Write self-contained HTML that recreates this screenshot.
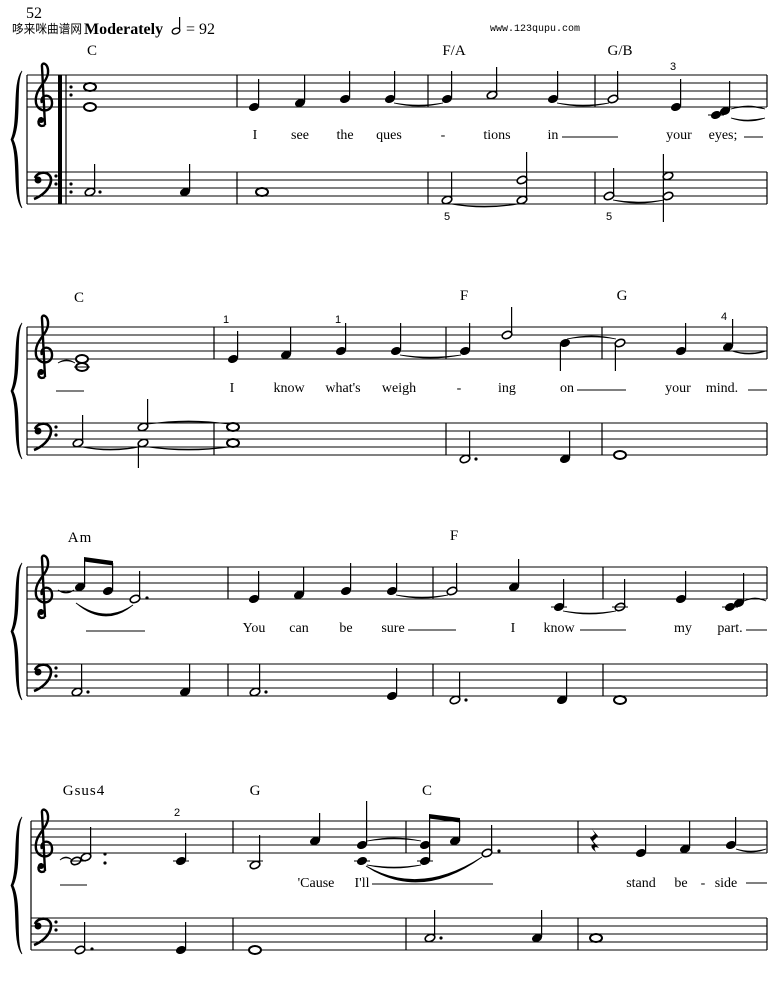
<!DOCTYPE html>
<html><head><meta charset="utf-8"><style>
body{margin:0;background:#fff;}
svg{display:block;}
.ly{font-family:"Liberation Serif",serif;font-size:14px;text-anchor:middle;}
.ch{font-family:"Liberation Serif",serif;font-size:15px;text-anchor:middle;}
.fg{font-family:"Liberation Sans",sans-serif;font-size:11px;text-anchor:middle;}
</style></head><body>
<svg id="s" width="775" height="991" viewBox="0 0 775 991" xmlns="http://www.w3.org/2000/svg">
<text x="26" y="18" font-family="Liberation Serif,serif" font-size="16">52</text>
<text x="12" y="33" font-family="Liberation Sans,'Noto Sans CJK SC',sans-serif" font-size="12" textLength="70" lengthAdjust="spacingAndGlyphs">哆来咪曲谱网</text>
<text x="84" y="34" font-family="Liberation Serif,serif" font-size="16" font-weight="bold">Moderately</text>
<ellipse cx="176" cy="31" rx="4" ry="2.8" fill="none" stroke="#000" stroke-width="1.3" transform="rotate(-20 176 31)"/>
<line x1="179.6" y1="30" x2="179.6" y2="17" stroke="#000" stroke-width="1.2"/>
<text x="186" y="34" font-family="Liberation Serif,serif" font-size="16">= 92</text>
<text x="490" y="31" font-family="Liberation Mono,monospace" font-size="10">www.123qupu.com</text>

<text class="ch" x="92" y="55">C</text><text class="ch" x="454" y="55">F/A</text><text class="ch" x="620" y="55">G/B</text>
<text class="ly" x="255" y="139">I</text><text class="ly" x="300" y="139">see</text><text class="ly" x="345" y="139">the</text><text class="ly" x="389" y="139">ques</text><text class="ly" x="443" y="139">-</text><text class="ly" x="497" y="139">tions</text><text class="ly" x="553" y="139">in</text><text class="ly" x="679" y="139">your</text><text class="ly" x="723" y="139">eyes;</text>
<text class="fg" x="447" y="220">5</text><text class="fg" x="609" y="220">5</text><text class="fg" x="673" y="70">3</text>

<text class="ch" x="79" y="302">C</text><text class="ch" x="464" y="300">F</text><text class="ch" x="622" y="300">G</text>
<text class="ly" x="232" y="392">I</text><text class="ly" x="289" y="392">know</text><text class="ly" x="343" y="392">what's</text><text class="ly" x="399" y="392">weigh</text><text class="ly" x="459" y="392">-</text><text class="ly" x="507" y="392">ing</text><text class="ly" x="567" y="392">on</text><text class="ly" x="678" y="392">your</text><text class="ly" x="722" y="392">mind.</text>
<text class="fg" x="226" y="323">1</text><text class="fg" x="338" y="323">1</text><text class="fg" x="724" y="320">4</text>

<text class="ch" x="80" y="542" letter-spacing="1">Am</text><text class="ch" x="454" y="540">F</text>
<text class="ly" x="254" y="632">You</text><text class="ly" x="299" y="632">can</text><text class="ly" x="346" y="632">be</text><text class="ly" x="393" y="632">sure</text><text class="ly" x="513" y="632">I</text><text class="ly" x="559" y="632">know</text><text class="ly" x="683" y="632">my</text><text class="ly" x="730" y="632">part.</text>

<text class="ch" x="84" y="795" letter-spacing="1">Gsus4</text><text class="ch" x="255" y="795">G</text><text class="ch" x="427" y="795">C</text>
<text class="ly" x="316" y="887">'Cause</text><text class="ly" x="362" y="887">I'll</text><text class="ly" x="641" y="887">stand</text><text class="ly" x="681" y="887">be</text><text class="ly" x="703" y="887">-</text><text class="ly" x="726" y="887">side</text>
<text class="fg" x="177" y="816">2</text>
<g id="g"></g>
</svg>
<script>
var h='';
function L(x1,y1,x2,y2,w){h+='<line x1="'+x1+'" y1="'+y1+'" x2="'+x2+'" y2="'+y2+'" stroke="#000" stroke-width="'+(w||1)+'"/>';}
var S=[[75,172,27],[327,423,27],[567,664,27],[821,918,31]];
var bars=[[237,428,595,767],[214,446,602,767],[228,433,603,767],[233,406,578,767]];
function tr(T,s){return T+32-4*s;}
function bs(B,s){return B+32-4*s;}
function head(x,y,t){
 if(t=='w'){h+='<ellipse cx="'+x+'" cy="'+y+'" rx="6" ry="4" fill="#fff" stroke="#000" stroke-width="2"/>';return;}
 if(t=='h'){h+='<ellipse cx="'+x+'" cy="'+y+'" rx="5" ry="3.4" fill="#fff" stroke="#000" stroke-width="1.6" transform="rotate(-22 '+x+' '+y+')"/>';return;}
 h+='<ellipse cx="'+x+'" cy="'+y+'" rx="5.2" ry="3.8" fill="#000" transform="rotate(-22 '+x+' '+y+')"/>';
}
function n(x,y,t,st,len){head(x,y,t);len=len||28;if(st=='u')L(x+4.6,y-1,x+4.6,y-len,1.2);if(st=='d')L(x-4.6,y+1,x-4.6,y+len,1.2);}
function dot(x,y){h+='<circle cx="'+x+'" cy="'+y+'" r="1.6" fill="#000"/>';}
function led(x,y){L(x-8,y,x+8,y,1);}
function tie(x1,x2,y,up){var d=up?-6:6;h+='<path d="M'+x1+','+y+' Q'+((x1+x2)/2)+','+(y+d)+' '+x2+','+y+' Q'+((x1+x2)/2)+','+(y+d*0.7)+' '+x1+','+y+'Z" fill="#000" stroke="#000" stroke-width="0.8"/>';}
function tclef(x,T){h+='<path d="M'+(x+9)+','+(T+50)+' C'+(x+2)+','+(T+54)+' '+(x)+','+(T+44)+' '+(x+6)+','+(T+43)+' M'+(x+9)+','+(T+50)+' L'+(x+6)+','+(T-8)+' C'+(x+5)+','+(T-14)+' '+(x+13)+','+(T-12)+' '+(x+12)+','+(T-2)+' C'+(x+11)+','+(T+8)+' '+(x-2)+','+(T+14)+' '+(x)+','+(T+28)+' C'+(x+2)+','+(T+38)+' '+(x+17)+','+(T+38)+' '+(x+16)+','+(T+27)+' C'+(x+15)+','+(T+17)+' '+(x+3)+','+(T+20)+' '+(x+6)+','+(T+28)+'" fill="none" stroke="#000" stroke-width="2.4"/>';h+='<circle cx="'+(x+5)+'" cy="'+(T+45)+'" r="3" fill="#000"/>';}
function bclef(x,B){h+='<circle cx="'+(x+4)+'" cy="'+(B+8)+'" r="3.5" fill="#000"/><path d="M'+(x+1)+','+(B+6)+' C'+(x+4)+','+(B-2)+' '+(x+18)+','+(B-1)+' '+(x+17)+','+(B+9)+' C'+(x+16)+','+(B+17)+' '+(x+8)+','+(B+24)+' '+(x)+','+(B+27)+'" fill="none" stroke="#000" stroke-width="2.6"/>';dot(x+22,B+4);dot(x+22,B+12);}
function brace(T,B){var y1=T-4,y2=B+36,m=(y1+y2)/2;h+='<path d="M22,'+y1+' C12,'+(y1+12)+' 19,'+(m-18)+' 11,'+m+' C19,'+(m+18)+' 12,'+(y2-12)+' 22,'+y2+' C15,'+(y2-12)+' 22,'+(m+18)+' 13,'+m+' C22,'+(m-18)+' 15,'+(y1+12)+' 22,'+y1+'Z" fill="#000" stroke="#000" stroke-width="0.8"/>';}
S.forEach(function(s,i){var T=s[0],B=s[1],x0=s[2];
 for(var k=0;k<5;k++){L(x0,T+8*k,767,T+8*k,1);L(x0,B+8*k,767,B+8*k,1);}
 L(x0,T,x0,B+32,1.2);bars[i].forEach(function(b){L(b,T,b,T+32,1.2);L(b,B,b,B+32,1.2);});
 brace(T,B);tclef(36,T);bclef(34,B);});
var T=75,B=172;
L(60,T,60,B+32,4);L(66,T,66,B+32,1.2);dot(71,T+12);dot(71,T+20);dot(71,B+12);dot(71,B+20);
n(90,tr(T,5),'w');n(90,tr(T,0),'w');
n(254,tr(T,0),'q','u');n(300,tr(T,1),'q','u');n(345,tr(T,2),'q','u');n(390,tr(T,2),'q','u');tie(394,443,tr(T,2)+4);
n(447,tr(T,2),'q','u');n(492,tr(T,3),'h','u');n(553,tr(T,2),'q','u');tie(557,609,tr(T,2)+4);n(613,tr(T,2),'h','u');
n(676,tr(T,0),'q','u');n(716,tr(T,-2),'q');n(725,tr(T,-1),'q','u',30);led(716,tr(T,-2));tie(731,765,tr(T,-1)-2,true);tie(731,765,tr(T,-2)+3);
n(90,bs(B,3),'h','u');dot(100,bs(B,3));n(185,bs(B,3),'q','u');n(262,bs(B,3),'w');
n(447,bs(B,1),'h','u');tie(451,518,bs(B,1)+4);n(522,bs(B,1),'h');n(522,bs(B,6),'h','u');L(526.6,bs(B,1),526.6,bs(B,6),1.2);
n(609,bs(B,2),'h','u');tie(613,664,bs(B,2)+4);n(668,bs(B,2),'h');n(668,bs(B,7),'h');L(663.4,bs(B,7)-22,663.4,bs(B,2)+26,1.2);
L(562,137,618,137,1);L(744,137,763,137,1);
T=327;B=423;
tie(58,75,tr(T,-1),true);n(82,tr(T,0),'w');n(82,tr(T,-2),'w');led(82,tr(T,-2));
n(233,tr(T,0),'q','u');n(286,tr(T,1),'q','u');n(341,tr(T,2),'q','u');n(396,tr(T,2),'q','u');tie(400,461,tr(T,2)+4);
n(465,tr(T,2),'q','u');n(507,tr(T,6),'h','u');n(565,tr(T,4),'q','d');tie(567,616,tr(T,4)-4,true);n(620,tr(T,4),'h','d');
n(681,tr(T,2),'q','u');n(728,tr(T,3),'q','u');tie(732,766,tr(T,3)+4);
n(78,bs(B,3),'h','u');tie(82,139,bs(B,3)+4);n(143,bs(B,3),'h','d',25);n(143,bs(B,7),'h','u');tie(148,229,bs(B,7)-3,true);tie(148,229,bs(B,3)+4);
n(233,bs(B,7),'w');n(233,bs(B,3),'w');
n(465,bs(B,-1),'h','u');dot(476,bs(B,-1));n(565,bs(B,-1),'q','u');n(620,bs(B,0),'w');
L(56,391,84,391,1);L(577,390,626,390,1);L(748,390,767,390,1);
T=567;B=664;
tie(58,74,tr(T,3)+3);
head(80,tr(T,3),'q');head(108,tr(T,2),'q');L(84.6,tr(T,3),84.6,559,1.2);L(112.6,tr(T,2),112.6,563,1.2);
h+='<path d="M84,557 L113,561 L113,565.5 L84,561.5Z" fill="#000"/>';
n(135,tr(T,0),'h','u');dot(147,tr(T,0)-1);h+='<path d="M76,603 Q105,628 133,605 Q105,624 76,603Z" fill="#000" stroke="#000" stroke-width="0.8"/>';
n(254,tr(T,0),'q','u');n(299,tr(T,1),'q','u');n(346,tr(T,2),'q','u');n(392,tr(T,2),'q','u');tie(396,448,tr(T,2)+4);
n(452,tr(T,2),'h','u');n(514,tr(T,3),'q','u');n(559,tr(T,-2),'q','u');led(559,tr(T,-2));tie(563,616,tr(T,-2)+4);n(620,tr(T,-2),'h','u');led(620,tr(T,-2));
n(681,tr(T,0),'q','u');n(730,tr(T,-2),'q');n(739,tr(T,-1),'q','u',30);led(730,tr(T,-2));tie(744,766,tr(T,-1)-2,true);
n(77,bs(B,1),'h','u');dot(88,bs(B,1));n(185,bs(B,1),'q','u');
n(255,bs(B,1),'h','u');dot(266,bs(B,1));n(392,bs(B,0),'q','u');
n(455,bs(B,-1),'h','u');dot(466,bs(B,-1));n(562,bs(B,-1),'q','u');n(620,bs(B,-1),'w');
L(86,631,145,631,1);L(408,630,456,630,1);L(580,630,626,630,1);L(746,630,767,630,1);
T=821;B=918;
tie(60,72,tr(T,-2)-1,true);n(76,tr(T,-2),'h');n(86,tr(T,-1),'h','u',30);led(78,tr(T,-2));dot(105,854);dot(105,863);
n(181,tr(T,-2),'q','u');led(181,tr(T,-2));
n(255,tr(T,-3),'h','u',30);led(255,tr(T,-2));n(315,tr(T,3),'q','u');
n(362,tr(T,-2),'q');n(362,tr(T,2),'q','u',44);led(362,tr(T,-2));tie(367,421,tr(T,2)-4,true);tie(367,421,tr(T,-2)+4);
head(425,tr(T,2),'q');head(425,tr(T,-2),'q');led(425,tr(T,-2));head(455,tr(T,3),'q');L(429.6,tr(T,-2),429.6,816,1.2);L(459.6,tr(T,3),459.6,820,1.2);
h+='<path d="M429,814 L460,818 L460,822.5 L429,818.5Z" fill="#000"/>';
n(487,tr(T,0),'h','u');dot(499,851);
h+='<path d="M366,866 Q420,902 482,857 Q420,897 366,866Z" fill="#000" stroke="#000" stroke-width="0.8"/>';
h+='<path d="M592,829 L598,836 L593,841 L599,848 Q592,845 596,852 Q588,846 594,844 L590,838 L595,834Z" fill="#000"/>';
n(641,tr(T,0),'q','u');n(685,tr(T,1),'q','u');n(731,tr(T,2),'q','u');tie(736,766,tr(T,2)+4);
n(80,bs(B,0),'h','u');dot(92,bs(B,0)-1);n(181,bs(B,0),'q','u');n(255,bs(B,0),'w');
n(430,bs(B,3),'h','u');dot(441,bs(B,3));n(537,bs(B,3),'q','u');n(596,bs(B,3),'w');
L(60,885,87,885,1);L(372,884,493,884,1);L(746,883,767,883,1);
document.getElementById('g').innerHTML=h;
</script>
</body></html>
